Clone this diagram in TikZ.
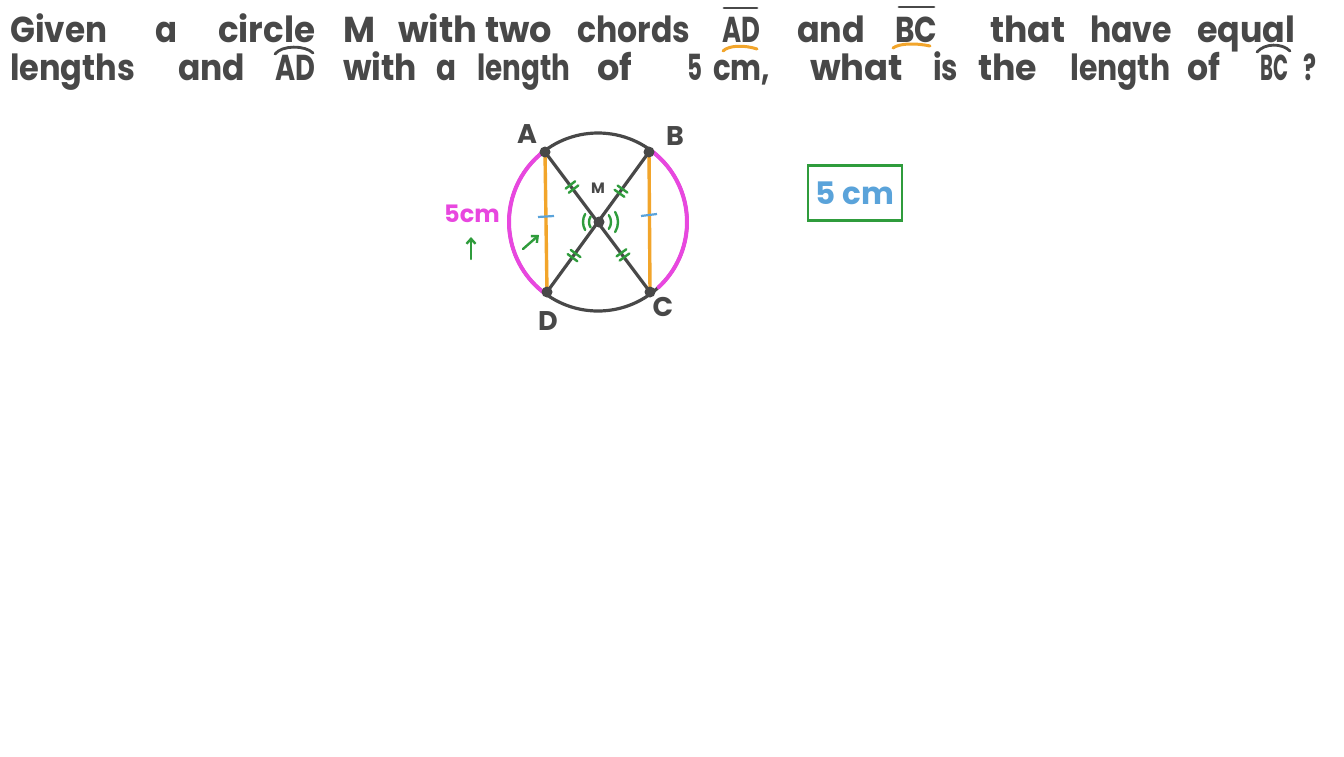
\documentclass[tikz,border=0pt]{standalone}
\usepackage{fontspec}
\setmainfont{Poppins}
\usepackage{graphicx}
\usetikzlibrary{arrows.meta}
\definecolor{ink}{HTML}{484848}
\definecolor{mag}{HTML}{E847DF}
\definecolor{org}{HTML}{F2A52B}
\definecolor{grn}{HTML}{2F9C3C}
\definecolor{blu}{HTML}{5AA3DA}
\newcommand\wordat[4]{\node[word] (#1) at (#2) {\resizebox{#3pt}{\height}{#4}};}
\begin{document}
\begin{tikzpicture}[x=1pt,y=-1pt,
  word/.style={anchor=base west, inner sep=0pt, text=ink, font=\fontsize{36}{42}\selectfont\bfseries},
  penmark/.style={draw=ink, line width=2.8pt, line cap=round},
  tilde/.style={draw=org, line width=3pt, line cap=round},
  geo/.style={draw=ink, line width=3.2pt, line cap=round},
  chord/.style={draw=org, line width=3.4pt},
  hilite/.style={draw=mag, line width=4pt, line cap=round},
  grnline/.style={draw=grn, line width=2.4pt, line cap=round},
  dot/.style={fill=ink},
  lbl/.style={text=ink, inner sep=0pt, font=\fontsize{27}{30}\selectfont\bfseries},
  dtick/.pic={\draw[grnline] (-2.6,-6)--(-2.6,6) (2.6,-6)--(2.6,6);}
]
\useasboundingbox[fill=white] (0,0) rectangle (1344,756);

% ---- line 1
\wordat{w1}{10,42}{97}{Given}
\wordat{w2}{155,42}{22}{a}
\wordat{w3}{218,42}{97}{circle}
\wordat{w4}{343,42}{32}{M}
\wordat{w5}{398,42}{79}{with}
\wordat{w6}{485,42}{67}{two}
\wordat{w7}{577,42}{113}{chords}
\wordat{w8}{722,42}{38}{AD}
\wordat{w9}{797,42}{68}{and}
\wordat{w10}{895,42}{42}{BC}
\wordat{w11}{990,42}{75}{that}
\wordat{w12}{1090,42}{82}{have}
\wordat{w13}{1197,42}{98}{equal}
% ---- line 2
\wordat{v1}{10,80}{125}{lengths}
\wordat{v2}{178,80}{67}{and}
\wordat{v3}{275,80}{40}{AD}
\wordat{v4}{343,80}{74}{with}
\wordat{v5}{436,80}{20}{a}
\wordat{v6}{477,80}{93}{length}
\wordat{v7}{597,80}{35}{of}
\wordat{v8}{687,80}{15}{5}
\wordat{v9}{713,80}{57}{cm,}
\wordat{v10}{810,80}{93}{what}
\wordat{v11}{933,80}{25}{is}
\wordat{v12}{978,80}{59}{the}
\wordat{v13}{1070,80}{100}{length}
\wordat{v14}{1187,80}{33}{of}
\wordat{v15}{1260,80}{28}{BC}
\wordat{v16}{1303,80}{13}{?}

% overlines, tildes, arcs
\draw[penmark] (724,8) -- (757,8);
\draw[penmark] (899,7) -- (934,7);
\draw[tilde] (723,51) .. controls (729,45) and (745,45) .. (757,49);
\draw[tilde] (893,48) .. controls (900,43) and (916,43) .. (930,46);
\draw[penmark] (275,54) .. controls (282,45) and (305,45) .. (313,53);
\draw[penmark] (1257,52) .. controls (1265,43) and (1282,43) .. (1290,51);

% ---- diagram
\coordinate (O) at (598,222);
\coordinate (A) at (545,152);
\coordinate (B) at (649,152);
\coordinate (C) at (650,292);
\coordinate (D) at (547,292);
\coordinate (M) at (599,222);

\draw[geo] (O) circle[radius=89];
\draw[hilite] (O) ++(233:89) arc[start angle=233, end angle=126, radius=89];
\draw[hilite] (O) ++(-54:89) arc[start angle=-54, end angle=47, radius=89];
\draw[chord] (A) -- (D);
\draw[chord] (B) -- (C);
\draw[geo] (A) -- (C);
\draw[geo] (B) -- (D);
\foreach \p in {A,B,C,D,M} \fill[dot] (\p) circle[radius=5.5];

% equal-length ticks
\path (A) -- (M) pic[pos=0.5, sloped] {dtick};
\path (B) -- (M) pic[pos=0.56, sloped] {dtick};
\path (D) -- (M) pic[pos=0.52, sloped] {dtick};
\path (C) -- (M) pic[pos=0.53, sloped] {dtick};

% vertical angle marks
\draw[grnline] (M) ++(147:10) arc[start angle=147, end angle=213, radius=10];
\draw[grnline] (M) ++(150:16) arc[start angle=150, end angle=210, radius=16];
\draw[grnline] (M) ++(-35:12) arc[start angle=-35, end angle=35, radius=12];
\draw[grnline] (M) ++(-32:19) arc[start angle=-32, end angle=32, radius=19];

% chord midpoints
\draw[draw=blu, line width=2.2pt] (538,217) -- (554,216);
\draw[draw=blu, line width=2.2pt] (641,216) -- (657,214);

% labels
\node[lbl] (lA) at (527,134) {A};
\node[lbl] (lB) at (675,136) {B};
\node[lbl] (lD) at (548,321) {D};
\node[lbl] (lC) at (663,307) {C};
\node[lbl, font=\fontsize{15}{17}\selectfont\bfseries] (lM) at (598,188) {M};
\node[lbl, text=mag, font=\fontsize{24}{26}\selectfont\bfseries] (len) at (472,214) {5cm};

% green arrows
\coordinate (a1s) at (471,259);
\coordinate (a1e) at (471,237);
\coordinate (a2s) at (523,249);
\coordinate (a2e) at (539,235);
\draw[grnline, -{Straight Barb[length=5pt,width=9pt]}] (a1s) -- (a1e);
\draw[grnline, -{Straight Barb[length=5pt,width=9pt]}] (a2s) -- (a2e);

% answer box
\node[draw=grn, line width=2.8pt, minimum width=94pt, minimum height=55pt, inner sep=0pt,
      text=blu, font=\fontsize{31}{34}\selectfont\bfseries] (ans) at (855,193) {5 cm};
\end{tikzpicture}
\end{document}
